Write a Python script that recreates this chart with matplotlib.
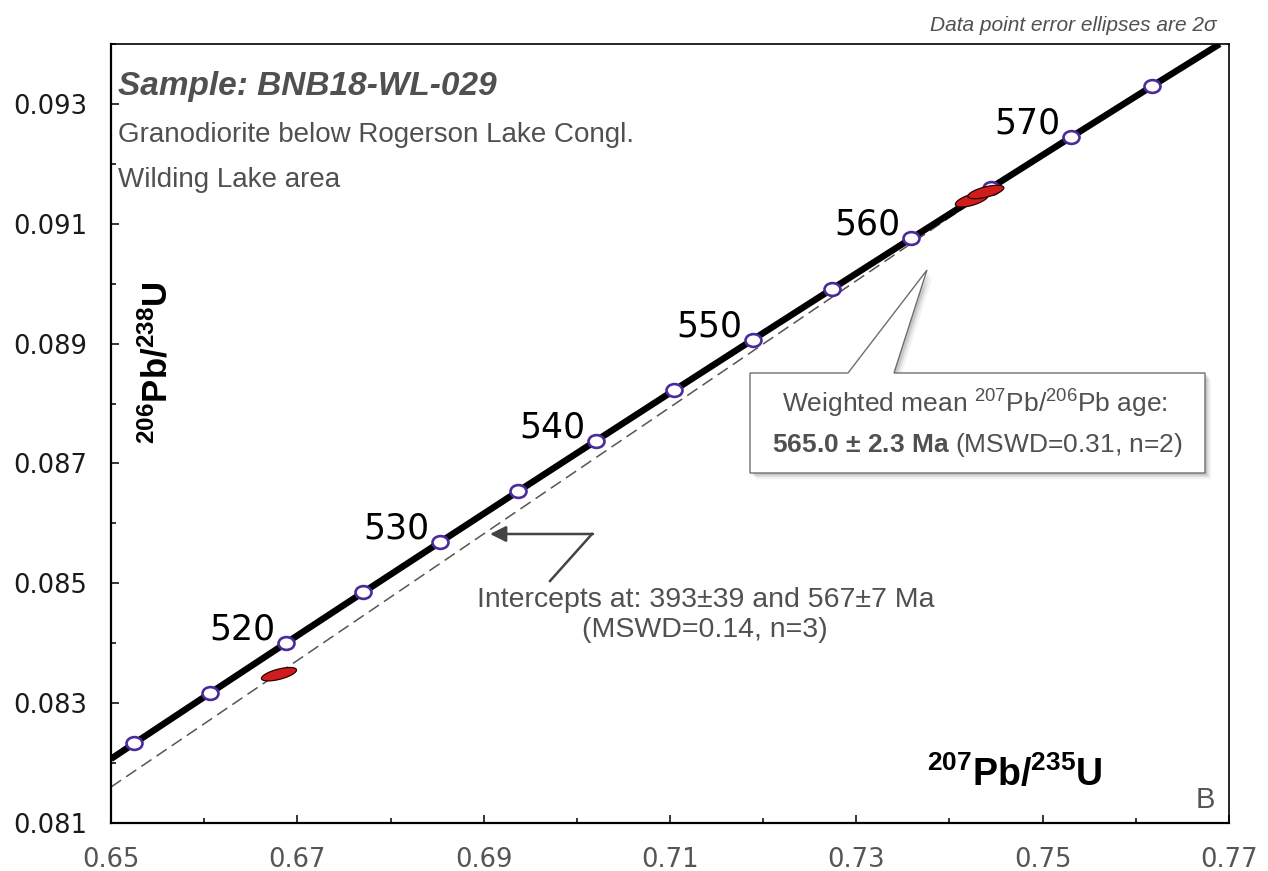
import numpy as np
import matplotlib
matplotlib.use('Agg')
import matplotlib.pyplot as plt
from matplotlib.path import Path
from matplotlib.patches import Polygon
from matplotlib.ticker import MultipleLocator

plt.rcParams['font.family'] = ['Liberation Sans', 'DejaVu Sans']
plt.rcParams['mathtext.fontset'] = 'custom'
plt.rcParams['mathtext.rm'] = 'Liberation Sans'
plt.rcParams['mathtext.bf'] = 'Liberation Sans:bold'
plt.rcParams['mathtext.it'] = 'Liberation Sans:italic'

# concordia age marks (Ma) and their ratios
ages = [510, 515, 520, 525, 530, 535, 540, 545, 550, 555, 560, 565, 570, 575]
conc_x = [0.65247, 0.66063, 0.66883, 0.67707, 0.68535, 0.69367, 0.70203,
          0.71043, 0.71887, 0.72736, 0.73588, 0.74445, 0.75306, 0.76172]
conc_y = [0.082327, 0.083167, 0.084008, 0.084849, 0.085690, 0.086533, 0.087376,
          0.088220, 0.089064, 0.089909, 0.090755, 0.091601, 0.092448, 0.093295]
labelled = [520, 530, 540, 550, 560, 570]
# where the curve meets the frame
curve_start = (0.6500, 0.08207)
curve_end = (0.7690, 0.09400)

# discordia (dashed): from left edge to upper intercept
disc_x = [0.6500, 0.7479]
disc_y = [0.08160, 0.09194]

# data point error ellipses (2 sigma)
ell_x = [0.66803, 0.74240, 0.74390]
ell_y = [0.083483, 0.091400, 0.091530]
ell_sx = [0.00188, 0.00177, 0.00193]
ell_sy = [0.000112, 0.000120, 0.000112]
ell_rho = [0.62, 0.62, 0.62]

W, H = 1268, 871
fig = plt.figure(figsize=(W / 100, H / 100), dpi=100)
L, R, T, B = 111, 1229, 44, 823
ax = fig.add_axes([L / W, 1 - B / H, (R - L) / W, (B - T) / H])


def P(x, y):
    # pixel position -> figure fraction
    return (x / W, 1 - y / H)


ax.set_xlim(0.65, 0.77)
ax.set_ylim(0.081, 0.094)

lx = [curve_start[0]] + conc_x + [curve_end[0]]
ly = [curve_start[1]] + conc_y + [curve_end[1]]
ax.plot(disc_x, disc_y, color='#555555', lw=1.1, dashes=(8, 4), zorder=2)
ax.plot(lx, ly, color='black', lw=4.7, solid_capstyle='butt', zorder=3)

circ = Path.unit_circle()
ell_marker = Path(circ.vertices * [1.0, 0.8], circ.codes)
ax.plot(conc_x, conc_y, ls='none', marker=ell_marker, ms=11.5, mfc='white',
        mec='#4b2a9c', mew=1.9, zorder=4)

for a, x, y in zip(ages, conc_x, conc_y):
    if a in labelled:
        ax.annotate(str(a), (x, y), xytext=(-31.5, 2.5), textcoords='offset points',
                    ha='center', va='baseline', fontsize=25, family='DejaVu Sans',
                    color='black', zorder=5)

th = np.linspace(0, 2 * np.pi, 200)
for cx, cy, sx, sy, r in zip(ell_x, ell_y, ell_sx, ell_sy, ell_rho):
    ex = cx + sx * np.cos(th)
    ey = cy + sy * (r * np.cos(th) + np.sqrt(1 - r * r) * np.sin(th))
    ax.fill(ex, ey, facecolor='#d01c1c', edgecolor='#2a0000', lw=0.9, zorder=6)

# frame and ticks
for s in ['left', 'bottom']:
    ax.spines[s].set_linewidth(1.6)
for s in ['top', 'right']:
    ax.spines[s].set_linewidth(1.2)
ax.xaxis.set_major_locator(MultipleLocator(0.02))
ax.xaxis.set_minor_locator(MultipleLocator(0.01))
ax.yaxis.set_major_locator(MultipleLocator(0.002))
ax.yaxis.set_minor_locator(MultipleLocator(0.001))
ax.tick_params(which='both', direction='in', width=1.1)
ax.tick_params(which='major', length=6, pad=17)
ax.tick_params(which='minor', length=3.8)
ax.set_xticks(np.arange(0.65, 0.7701, 0.02))
ax.set_xticklabels(['%.2f' % v for v in np.arange(0.65, 0.7701, 0.02)],
                   family='DejaVu Sans', fontsize=18.6, color='#555555')
ax.set_yticks(np.arange(0.081, 0.0941, 0.002))
ax.set_yticklabels(['%.3f' % v for v in np.arange(0.081, 0.0941, 0.002)],
                   family='DejaVu Sans', fontsize=18.6, color='#1a1a1a')

# axis titles inside the frame
fig.text(*P(157, 363), r'$\mathbf{^{206}Pb/^{238}U}$', rotation=90,
         ha='center', va='center', fontsize=25, color='black')
fig.text(*P(1015, 775), r'$\mathbf{^{207}Pb/^{235}U}$',
         ha='center', va='center', fontsize=27, color='black')
fig.text(*P(1205, 808), 'B', ha='center', va='baseline', fontsize=21, color='#555555')

grey = '#505050'
fig.text(*P(118, 95), 'Sample: BNB18-WL-029', fontsize=24, fontweight='bold',
         fontstyle='italic', color=grey, va='baseline')
fig.text(*P(118, 142), 'Granodiorite below Rogerson Lake Congl.', fontsize=20,
         color=grey, va='baseline')
fig.text(*P(118, 187), 'Wilding Lake area', fontsize=20, color=grey, va='baseline')
fig.text(*P(1217, 31), 'Data point error ellipses are 2σ', fontsize=15,
         fontstyle='italic', color=grey, ha='right', va='baseline')

# intercept note with elbow arrow
fig.text(*P(706, 607), 'Intercepts at: 393±39 and 567±7 Ma', fontsize=20.5,
         color=grey, ha='center', va='baseline')
fig.text(*P(705, 637), '(MSWD=0.14, n=3)', fontsize=20.5, color=grey,
         ha='center', va='baseline')
fig.add_artist(plt.Line2D([P(550, 581)[0], P(592, 534)[0]],
                          [P(550, 581)[1], P(592, 534)[1]],
                          color='#444444', lw=1.8, transform=fig.transFigure))
ax.annotate('', xy=P(490, 534), xycoords='figure fraction',
            xytext=P(593, 534), textcoords='figure fraction',
            arrowprops=dict(arrowstyle='-|>', color='#444444', lw=1.8,
                            mutation_scale=24, shrinkA=0, shrinkB=0))

# callout box for weighted mean
box = [(750, 373), (848, 373), (927, 270), (894, 373), (1205, 373),
       (1205, 473), (750, 473)]
for k, al in [(6, 0.05), (4, 0.08), (2.5, 0.10)]:
    sh = Polygon([P(x + k, y + k) for x, y in box], closed=True,
                 transform=fig.transFigure, facecolor='black', alpha=al,
                 edgecolor='none', zorder=7)
    fig.add_artist(sh)
fig.add_artist(Polygon([P(x, y) for x, y in box], closed=True,
                       transform=fig.transFigure, facecolor='white',
                       edgecolor='#6e6e6e', lw=1.0, zorder=8))
fig.text(*P(975, 413), r'Weighted mean $^{207}$Pb/$^{206}$Pb age:', fontsize=19,
         color=grey, ha='center', va='baseline', zorder=9)
fig.text(*P(977, 452), r'$\mathbf{565.0\ ±\ 2.3\ Ma}$ (MSWD=0.31, n=2)', fontsize=19,
         color=grey, ha='center', va='baseline', zorder=9)

fig.savefig('out.png', dpi=100)
